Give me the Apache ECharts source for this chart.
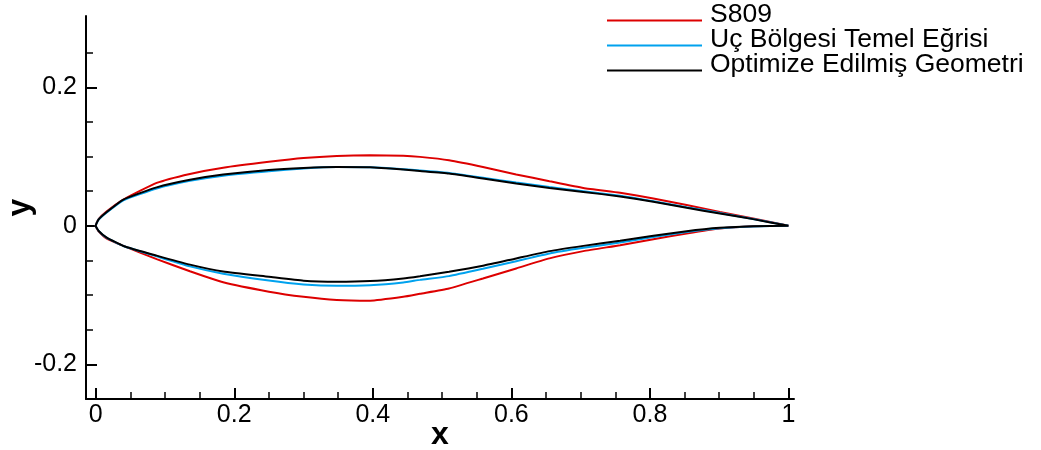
<!DOCTYPE html>
<html>
<head>
<meta charset="utf-8">
<script src="https://cdn.jsdelivr.net/npm/echarts@6/dist/echarts.min.js"></script>
<style>
  html, body { margin:0; padding:0; background:#fff; }
  #chart { width:1041px; height:450px; }
</style>
</head>
<body>
<div id="chart"></div>
<script>
// Airfoil outlines. Upper surface runs TE -> LE, lower LE -> TE.
const xUpper = [1, 0.949, 0.901, 0.853, 0.805, 0.757, 0.704, 0.655, 0.607, 0.559, 0.51, 0.468,
  0.444, 0.396, 0.348, 0.30, 0.25, 0.184, 0.136, 0.088, 0.04, 0.016, 0.004, 0];
const xLower = [0, 0.004, 0.016, 0.04, 0.088, 0.136, 0.184, 0.25, 0.30, 0.348, 0.396, 0.444,
  0.468, 0.51, 0.559, 0.607, 0.655, 0.704, 0.757, 0.805, 0.853, 0.901, 0.949, 1];

const s809Upper = [0, 0.0106, 0.0202, 0.030, 0.0395, 0.0477, 0.0548, 0.0645, 0.0742, 0.0851, 0.0948, 0.0996,
  0.1012, 0.1020, 0.1010, 0.098, 0.0925, 0.084, 0.075, 0.062, 0.038, 0.021, 0.0095, 0];
const s809Lower = [0, -0.0075, -0.0185, -0.029, -0.048, -0.0655, -0.0815, -0.095, -0.1024, -0.107, -0.108, -0.1024,
  -0.098, -0.0904, -0.076, -0.0615, -0.047, -0.0365, -0.0279, -0.0192, -0.011, -0.0038, -0.0005, 0];

const tipUpper = [0, 0.010, 0.0185, 0.027, 0.0355, 0.0435, 0.050, 0.056, 0.0625, 0.0695, 0.0765, 0.080,
  0.0818, 0.0845, 0.0848, 0.0828, 0.079, 0.0725, 0.065, 0.054, 0.037, 0.0195, 0.0088, 0];
const tipLower = [0, -0.007, -0.0175, -0.029, -0.044, -0.0585, -0.069, -0.079, -0.0846, -0.0866, -0.0856, -0.0817,
  -0.078, -0.0726, -0.062, -0.051, -0.0398, -0.0317, -0.024, -0.016, -0.0088, -0.0035, -0.0008, 0];

const optUpper = [0, 0.0097, 0.0178, 0.026, 0.0347, 0.0425, 0.049, 0.0548, 0.0612, 0.0684, 0.0756, 0.0793,
  0.0814, 0.0847, 0.085, 0.0837, 0.0808, 0.074, 0.0665, 0.0555, 0.038, 0.020, 0.009, 0];
const optLower = [0, -0.007, -0.017, -0.029, -0.043, -0.056, -0.066, -0.0736, -0.0793, -0.0808, -0.0798, -0.076,
  -0.0727, -0.0664, -0.0577, -0.047, -0.0365, -0.0289, -0.0215, -0.0144, -0.0077, -0.0029, -0.0005, 0];

const seriesNames = ['S809', 'Uç Bölgesi Temel Eğrisi', 'Optimize Edilmiş Geometri'];

// tick positions / labels
const xMajor = [0, 0.2, 0.4, 0.6, 0.8, 1];
const xMinor = [0.05, 0.1, 0.15, 0.25, 0.3, 0.35, 0.45, 0.5, 0.55, 0.65, 0.7, 0.75, 0.85, 0.9, 0.95];
const yMajor = [-0.2, 0, 0.2];
const yMinor = [-0.15, -0.1, -0.05, 0.05, 0.1, 0.15, 0.25];

const FONT = '"Liberation Sans", Arial, Helvetica, sans-serif';
const COLORS = { s809:'#dd0000', tip:'#00a2ee', opt:'#000000', axis:'#000000' };
const X_RANGE = { min:-0.014, max:1.008 };
const Y_RANGE = { min:-0.25, max:0.303 };

const loop = (up, lo) =>
  xUpper.map((x, i) => [x, up[i]]).concat(xLower.slice(1).map((x, i) => [x, lo[i + 1]]));

const axisLine = { show:true, onZero:false, lineStyle:{ color:COLORS.axis, width:2 } };
const hiddenLine = { show:false, onZero:false };
const nameStyle = { color:'#000', fontFamily:FONT, fontSize:32, fontWeight:'bold' };
// legend key: a line sitting at the text baseline (the tiny first subpath only pins the box top)
const KEY_ICON = 'path://M0,0L0.01,0L0.01,0.01ZM0,11L95,11L95,13L0,13Z';

const chart = echarts.init(document.getElementById('chart'), null, { renderer:'canvas' });
chart.setOption({
  backgroundColor:'#ffffff',
  animation:false,
  grid:{ left:86, right:247, top:16, bottom:51, containLabel:false, outerBoundsMode:'none' },
  legend:{
    orient:'vertical', left:607, top:1.5, padding:0, itemGap:-2,
    itemWidth:95, itemHeight:13, icon:KEY_ICON, symbolKeepAspect:false,
    itemStyle:{ borderWidth:0 },
    textStyle:{ color:'#000', fontFamily:FONT, fontSize:26.5, lineHeight:25, padding:[0, 0, 0, 3] },
    data:seriesNames
  },
  xAxis:[
    { type:'value', ...X_RANGE, axisLine,
      splitLine:{ show:false },
      axisTick:{ inside:true, length:11, customValues:xMajor, lineStyle:{ color:COLORS.axis, width:2 } },
      axisLabel:{ customValues:xMajor, margin:4, color:'#000', fontFamily:FONT, fontSize:25,
        showMinLabel:true, showMaxLabel:true },
      name:'x', nameLocation:'middle', nameGap:20, nameMoveOverlap:false, nameTextStyle:nameStyle },
    { type:'value', ...X_RANGE, position:'bottom', axisLine:hiddenLine,
      splitLine:{ show:false }, axisLabel:{ show:false },
      axisTick:{ inside:true, length:7, customValues:xMinor, lineStyle:{ color:COLORS.axis, width:1.5 } } }
  ],
  yAxis:[
    { type:'value', ...Y_RANGE, axisLine,
      splitLine:{ show:false },
      axisTick:{ inside:true, length:11, customValues:yMajor, lineStyle:{ color:COLORS.axis, width:2 } },
      axisLabel:{ customValues:yMajor, margin:9, color:'#000', fontFamily:FONT, fontSize:25 },
      name:'y', nameLocation:'middle', nameGap:50, nameMoveOverlap:false, nameTextStyle:nameStyle },
    { type:'value', ...Y_RANGE, position:'left', axisLine:hiddenLine,
      splitLine:{ show:false }, axisLabel:{ show:false },
      axisTick:{ inside:true, length:7, customValues:yMinor, lineStyle:{ color:COLORS.axis, width:1.5 } } }
  ],
  series:[
    { name:seriesNames[0], type:'line', data:loop(s809Upper, s809Lower), symbol:'none', smooth:0.15,
      lineStyle:{ color:COLORS.s809, width:2 }, itemStyle:{ color:COLORS.s809 } },
    { name:seriesNames[1], type:'line', data:loop(tipUpper, tipLower), symbol:'none', smooth:0.15,
      lineStyle:{ color:COLORS.tip, width:2 }, itemStyle:{ color:COLORS.tip } },
    { name:seriesNames[2], type:'line', data:loop(optUpper, optLower), symbol:'none', smooth:0.15,
      lineStyle:{ color:COLORS.opt, width:2 }, itemStyle:{ color:COLORS.opt } }
  ]
});
</script>
</body>
</html>
